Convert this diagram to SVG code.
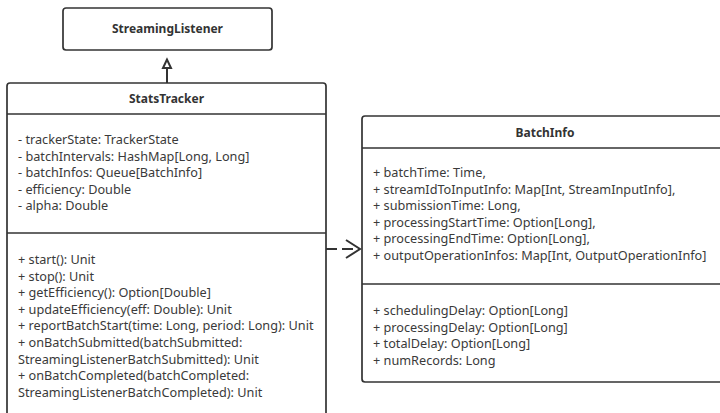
<svg xmlns="http://www.w3.org/2000/svg" width="720" height="413" viewBox="0 0 720 413">
<style>
.box{fill:#fff;stroke:#333;stroke-width:1.7}
.sep{stroke:#333;stroke-width:1.7}
.t{font-family:"Noto Sans","Open Sans",sans-serif;font-size:12.7px;fill:#3a3a3a}
.h{font-family:"Noto Sans","Open Sans",sans-serif;font-size:12px;font-weight:bold;fill:#333;text-anchor:middle}
.ln{fill:none;stroke:#333;stroke-width:2}
</style>
<rect width="720" height="413" fill="#fff"/>
<g id="connectors">
<line class="ln" x1="167" y1="68" x2="167" y2="83"/>
<polygon points="167,59.5 163,68 171,68" fill="#fff" stroke="#333" stroke-width="2" stroke-linejoin="miter"/>
<line class="ln" x1="326" y1="249" x2="359" y2="249" stroke-dasharray="11 5"/>
<polyline class="ln" points="346,240 360,249 346,258"/>
</g>
<g id="StreamingListener">
<rect class="box" x="63" y="8" width="209" height="42" rx="3"/>
<text class="h" x="167.5" y="33">StreamingListener</text>
</g>
<g id="StatsTracker">
<rect class="box" x="7" y="83" width="319" height="345" rx="3"/>
<line class="sep" x1="7" y1="114" x2="326" y2="114"/>
<line class="sep" x1="7" y1="233" x2="326" y2="233"/>
<text class="h" x="166.5" y="103">StatsTracker</text>
<text class="t" x="18" y="144">- trackerState: TrackerState</text>
<text class="t" x="18" y="160.6">- batchIntervals: HashMap[Long, Long]</text>
<text class="t" x="18" y="177.2">- batchInfos: Queue[BatchInfo]</text>
<text class="t" x="18" y="193.8">- efficiency: Double</text>
<text class="t" x="18" y="210.4">- alpha: Double</text>
<text class="t" x="18" y="264">+ start(): Unit</text>
<text class="t" x="18" y="280.6">+ stop(): Unit</text>
<text class="t" x="18" y="297.2">+ getEfficiency(): Option[Double]</text>
<text class="t" x="18" y="313.8">+ updateEfficiency(eff: Double): Unit</text>
<text class="t" x="18" y="330.4">+ reportBatchStart(time: Long, period: Long): Unit</text>
<text class="t" x="18" y="347">+ onBatchSubmitted(batchSubmitted:</text>
<text class="t" x="18" y="363.6">StreamingListenerBatchSubmitted): Unit</text>
<text class="t" x="18" y="380.2">+ onBatchCompleted(batchCompleted:</text>
<text class="t" x="18" y="396.8">StreamingListenerBatchCompleted): Unit</text>
</g>
<g id="BatchInfo">
<rect class="box" x="362" y="116" width="366" height="266" rx="3"/>
<line class="sep" x1="362" y1="148" x2="728" y2="148"/>
<line class="sep" x1="362" y1="284" x2="728" y2="284"/>
<text class="h" x="545" y="137">BatchInfo</text>
<text class="t" x="373" y="177">+ batchTime: Time,</text>
<text class="t" x="373" y="193.6">+ streamIdToInputInfo: Map[Int, StreamInputInfo],</text>
<text class="t" x="373" y="210.2">+ submissionTime: Long,</text>
<text class="t" x="373" y="226.8">+ processingStartTime: Option[Long],</text>
<text class="t" x="373" y="243.4">+ processingEndTime: Option[Long],</text>
<text class="t" x="373" y="260">+ outputOperationInfos: Map[Int, OutputOperationInfo]</text>
<text class="t" x="373" y="315">+ schedulingDelay: Option[Long]</text>
<text class="t" x="373" y="331.6">+ processingDelay: Option[Long]</text>
<text class="t" x="373" y="348.2">+ totalDelay: Option[Long]</text>
<text class="t" x="373" y="364.8">+ numRecords: Long</text>
</g>
</svg>
